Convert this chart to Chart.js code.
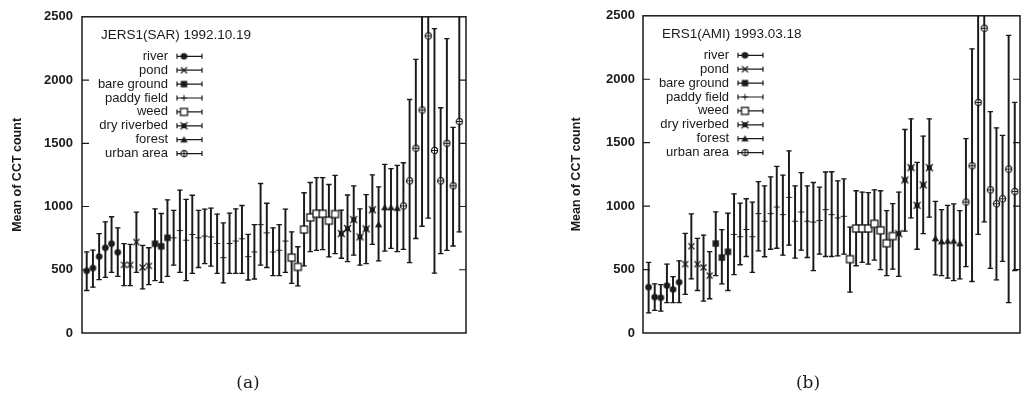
<!DOCTYPE html>
<html>
<head>
<meta charset="utf-8">
<script src="https://cdn.jsdelivr.net/npm/chart.js@4.4.1/dist/chart.umd.min.js"></script>
<style>
  html, body { margin: 0; padding: 0; background: #fff; overflow: hidden; }
  body { width: 1026px; height: 399px; position: relative; }
  canvas { position: absolute; top: 0; }
  #c1 { left: 0; }
  #c2 { left: 560px; }
  .cap { position: absolute; top: 372px; width: 40px; text-align: center;
         font: 17px "DejaVu Serif", "Liberation Serif", serif; color: #1a1a1a; }
</style>
</head>
<body>
<canvas id="c1" width="500" height="399"></canvas>
<canvas id="c2" width="466" height="399"></canvas>
<div class="cap" style="left:228px">(a)</div>
<div class="cap" style="left:788px">(b)</div>
<script>
const classes = ['river', 'pond', 'bare ground', 'paddy field', 'weed', 'dry riverbed', 'forest', 'urban area'];
const yTicks = [0, 500, 1000, 1500, 2000, 2500];

// (a) JERS1 SAR
const jersTitle = 'JERS1(SAR) 1992.10.19';
const jersCounts = [6, 5, 3, 19, 8, 6, 4, 10];
const jersMean = [492, 513, 604, 674, 706, 638,
  539, 539, 719, 518, 531,
  706, 685, 753,
  753, 810, 734, 779, 753, 766, 760, 708, 596, 708, 727, 745, 604, 641, 857, 792, 641, 654, 727,
  596, 523, 818, 914, 943, 943, 888, 940,
  786, 826, 896, 760, 823, 974,
  857, 992, 992, 987,
  1005, 1203, 1461, 1763, 2349, 1443, 1203, 1500, 1164, 1672];
const jersLow = [336, 362, 422, 440, 479, 448,
  375, 375, 479, 349, 383,
  414, 401, 448,
  536, 479, 414, 471, 518, 549, 529, 471, 396, 471, 471, 471, 419, 427, 536, 518, 453, 453, 479,
  393, 372, 531, 643, 654, 659, 602, 628,
  591, 565, 615, 536, 549, 701,
  570, 648, 669, 643,
  661, 557, 747, 844, 909, 474, 628, 654, 688, 799];
const jersHigh = [641, 656, 786, 878, 919, 831,
  706, 701, 956, 693, 674,
  982, 945, 1052,
  969, 1130, 1057, 1089, 969, 979, 987, 940, 870, 948, 982, 1008, 779, 857, 1182, 1026, 831, 857, 979,
  799, 682, 1109, 1190, 1229, 1229, 1174, 1247,
  971, 1091, 1164, 982, 1094, 1250,
  1156, 1333, 1299, 1326,
  1346, 1846, 2164, 2680, 3790, 2406, 1781, 2328, 1625, 2550];

// (b) ERS1 AMI
const ersTitle = 'ERS1(AMI) 1993.03.18';
const ersCounts = [6, 5, 3, 19, 8, 6, 5, 9];
const ersMean = [361, 283, 278, 374, 343, 400,
  543, 684, 543, 517, 452,
  705, 595, 640,
  777, 759, 816, 759, 941, 881, 941, 993, 933, 1069, 881, 954, 881, 874, 887, 972, 933, 907, 920,
  582, 824, 824, 824, 861, 809, 707, 764,
  783, 1206, 1303, 1006, 1167, 1303,
  744, 720, 725, 725, 705,
  1032, 1318, 1817, 2402, 1128, 1019, 1058, 1292, 1115];
const ersLow = [159, 179, 172, 239, 239, 239,
  304, 426, 335, 252, 270,
  452, 387, 335,
  460, 538, 603, 478, 647, 601, 660, 668, 613, 692, 590, 653, 595, 491, 622, 603, 603, 608, 621,
  322, 530, 556, 543, 575, 499, 452, 504,
  447, 803, 907, 660, 783, 913,
  458, 452, 432, 413, 426,
  523, 406, 777, 876, 510, 419, 564, 239, 491];
const ersHigh = [556, 387, 382, 543, 445, 569,
  785, 939, 746, 772, 642,
  954, 814, 944,
  1097, 1024, 1058, 1032, 1193, 1160, 1230, 1313, 1245, 1435, 1160, 1264, 1160, 1186, 1149, 1269, 1271, 1199, 1214,
  835, 1121, 1110, 1107, 1128, 1121, 965, 1019,
  1110, 1604, 1687, 1344, 1552, 1687,
  1037, 972, 1006, 1017, 965,
  1532, 2239, 2860, 3930, 1745, 1617, 1557, 2345, 1817];

const ink = '#1a1a1a';

// small marker glyphs used as point styles
function marker(kind) {
  const c = document.createElement('canvas');
  c.width = 11; c.height = 11;
  const g = c.getContext('2d');
  g.strokeStyle = ink; g.fillStyle = ink; g.lineWidth = 1.2;
  const m = 5.5;
  g.beginPath();
  if (kind === 0) { g.arc(m, m, 3.3, 0, Math.PI * 2); g.fill(); }
  if (kind === 1) { g.lineWidth = 1.3; g.moveTo(m - 3, m - 3); g.lineTo(m + 3, m + 3); g.moveTo(m + 3, m - 3); g.lineTo(m - 3, m + 3); g.stroke(); }
  if (kind === 2) { g.fillRect(m - 3.2, m - 3.2, 6.4, 6.4); }
  if (kind === 3) { g.lineWidth = 1; g.moveTo(m - 3, m); g.lineTo(m + 3, m); g.moveTo(m, m - 3); g.lineTo(m, m + 3); g.stroke(); }
  if (kind === 4) { g.lineWidth = 1.3; g.fillStyle = '#fff'; g.fillRect(m - 3.5, m - 3.5, 7, 7); g.strokeRect(m - 3.5, m - 3.5, 7, 7); }
  if (kind === 5) { g.fillRect(m - 2.5, m - 2.5, 5, 5); g.lineWidth = 1.3; g.moveTo(m - 3.5, m - 3.5); g.lineTo(m + 3.5, m + 3.5); g.moveTo(m + 3.5, m - 3.5); g.lineTo(m - 3.5, m + 3.5); g.stroke(); }
  if (kind === 6) { g.moveTo(m, m - 3.6); g.lineTo(m + 3.7, m + 2.7); g.lineTo(m - 3.7, m + 2.7); g.closePath(); g.fill(); }
  if (kind === 7) { g.fillStyle = '#fff'; g.arc(m, m, 3.1, 0, Math.PI * 2); g.fill(); g.stroke();
    g.beginPath(); g.lineWidth = 1; g.moveTo(m - 3, m); g.lineTo(m + 3, m); g.moveTo(m, m - 3); g.lineTo(m, m + 3); g.stroke(); }
  return c;
}
const markers = classes.map((c, k) => marker(k));

function buildDatasets(counts, mean, low, high) {
  const sets = [];
  sets.push({
    type: 'bar',
    data: mean.map((v, i) => ({ x: i + 1, y: [low[i], high[i]] })),
    backgroundColor: ink,
    barThickness: 1.3,
    clip: 0,
    order: 3
  });
  const caps = [];
  low.forEach((v, i) => { caps.push({ x: i + 1, y: v }); caps.push({ x: i + 1, y: high[i] }); });
  sets.push({
    type: 'scatter',
    data: caps,
    pointStyle: 'line',
    pointRadius: 2.7,
    pointBorderColor: ink,
    pointBorderWidth: 1.3,
    order: 2
  });
  let start = 0;
  counts.forEach((n, k) => {
    const pts = [];
    for (let i = start; i < start + n; i++) pts.push({ x: i + 1, y: mean[i] });
    start += n;
    sets.push({
      type: 'scatter',
      label: classes[k],
      data: pts,
      pointStyle: markers[k],
      pointRadius: 5,
      order: 1
    });
  });
  return sets;
}

const framePlugin = {
  id: 'frame',
  afterDatasetsDraw(chart, args, opts) {
    const { ctx, chartArea: a } = chart;
    const y = chart.scales.y;
    ctx.save();
    ctx.strokeStyle = ink;
    ctx.lineWidth = 1.5;
    ctx.strokeRect(a.left, a.top, a.right - a.left, a.bottom - a.top);
    ctx.lineWidth = 1.2;
    ctx.beginPath();
    y.ticks.forEach(t => {
      if (t.value <= y.min || t.value >= y.max) return;
      const py = y.getPixelForValue(t.value);
      ctx.moveTo(a.left, py); ctx.lineTo(a.left + 7, py);
      ctx.moveTo(a.right, py); ctx.lineTo(a.right - 7, py);
    });
    ctx.stroke();

    // key
    ctx.fillStyle = ink;
    ctx.textBaseline = 'middle';
    ctx.textAlign = 'left';
    ctx.font = '13.5px "Liberation Sans", Arial, sans-serif';
    ctx.fillText(opts.title, a.left + 19, a.top + 18);
    ctx.font = '13px "Liberation Sans", Arial, sans-serif';
    ctx.textAlign = 'right';
    ctx.lineWidth = 1.2;
    classes.forEach((name, k) => {
      const ly = a.top + 39.5 + k * 13.9;
      ctx.fillText(name, a.left + 86, ly);
      const x0 = a.left + 95, x1 = a.left + 120;
      ctx.beginPath();
      ctx.moveTo(x0, ly); ctx.lineTo(x1, ly);
      ctx.moveTo(x0, ly - 2.5); ctx.lineTo(x0, ly + 2.5);
      ctx.moveTo(x1, ly - 2.5); ctx.lineTo(x1, ly + 2.5);
      ctx.stroke();
      const img = markers[k];
      ctx.drawImage(img, a.left + 102 - img.width / 2, ly - img.height / 2);
    });
    ctx.restore();
  }
};

function makeChart(id, title, counts, mean, low, high, lay) {
  new Chart(document.getElementById(id), {
    type: 'bar',
    data: { datasets: buildDatasets(counts, mean, low, high) },
    options: {
      responsive: false,
      animation: false,
      events: [],
      layout: { padding: { top: lay.top, right: lay.right, bottom: 66, left: 0 } },
      plugins: {
        legend: { display: false },
        tooltip: { enabled: false },
        frame: { title: title }
      },
      scales: {
        x: { type: 'linear', min: lay.xmin, max: lay.xmax, offset: false, display: false },
        y: {
          min: 0, max: 2500,
          afterFit: s => { s.width = lay.axisW; },
          afterBuildTicks: s => { s.ticks = yTicks.map(v => ({ value: v })); },
          grid: { display: false, drawTicks: false },
          border: { display: false },
          ticks: {
            padding: lay.tickPad,
            color: ink,
            callback: v => String(v),
            font: { family: '"Liberation Sans", Arial, sans-serif', size: 13, weight: 'bold' }
          },
          title: {
            display: true,
            text: 'Mean of CCT count',
            color: ink,
            padding: { top: lay.titlePad },
            font: { family: '"Liberation Sans", Arial, sans-serif', size: 12.5, weight: 'bold' }
          }
        }
      }
    },
    plugins: [framePlugin]
  });
}

makeChart('c1', jersTitle, jersCounts, jersMean, jersLow, jersHigh,
  { top: 14, right: 34, axisW: 82, tickPad: 9, titlePad: 10, xmin: 0.24, xmax: 62.08 });
makeChart('c2', ersTitle, ersCounts, ersMean, ersLow, ersHigh,
  { top: 12.5, right: 1, axisW: 83, tickPad: 8, titlePad: 9, xmin: 0.08, xmax: 61.86 });
</script>
</body>
</html>
